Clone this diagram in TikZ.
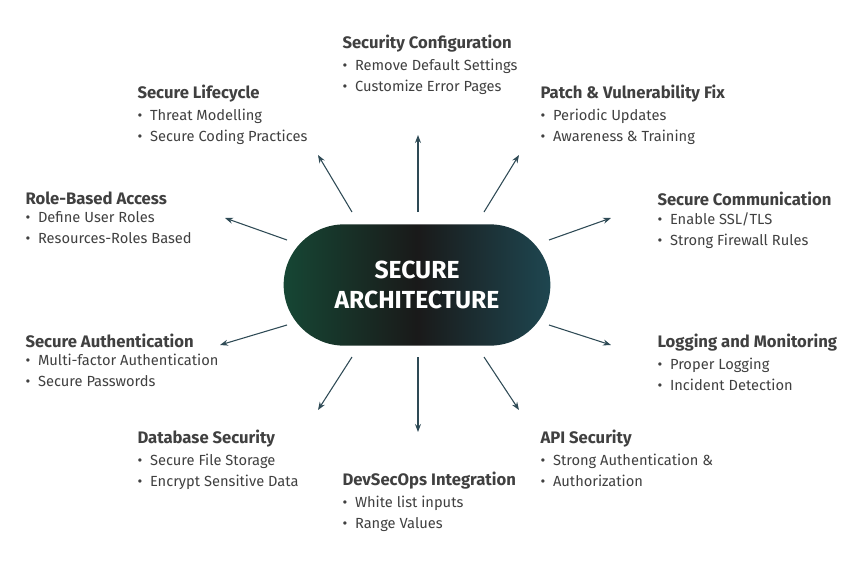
\documentclass[tikz,border=0pt]{standalone}
\usepackage{fontspec}
\setmainfont{Fira Sans}
\usetikzlibrary{arrows.meta,positioning,shapes.misc}
\definecolor{arrowcol}{RGB}{46,74,85}
\definecolor{textcol}{RGB}{64,64,64}
\definecolor{pillgreen}{RGB}{22,70,52}
\definecolor{pillteal}{RGB}{30,70,80}
\tikzset{every picture/.style={line width=0.75pt},
  head/.style={anchor=north west,inner sep=0.75pt,font=\fontsize{12.5}{14}\selectfont\bfseries,text=textcol},
  items/.style={anchor=north west,inner sep=0.75pt,align=left,font=\fontsize{11}{15.75}\selectfont,text=textcol},
  spoke/.style={draw=arrowcol,line width=0.8pt,-{Stealth[length=6pt,width=4.5pt]}}}
\newcommand{\infoblock}[5]{%
  \node[head] (#1) at (#2) {#3};
  \node[items,below=3pt of #1.south west,anchor=north west] (#1-list) {•\ \ #4\\•\ \ #5};}

\begin{document}
\begin{tikzpicture}[x=0.75pt,y=0.75pt,yscale=-1,xscale=1]
\useasboundingbox (0,0) rectangle (846,568);

% centre pill
\node[rounded rectangle,minimum width=200pt,minimum height=91pt,inner sep=0pt,
  left color=pillgreen,right color=pillteal,middle color=black!90,
  text=white,align=center,font=\fontsize{18.5}{23}\selectfont\bfseries] (core) at (417,285)
  {SECURE\\ARCHITECTURE};

% text blocks
\infoblock{config}{341,33}{Security Configuration}{Remove Default Settings}{Customize Error Pages}
\infoblock{life}{136,83}{Secure Lifecycle}{Threat Modelling}{Secure Coding Practices}
\infoblock{patch}{539,83}{Patch \& Vulnerability Fix}{Periodic Updates}{Awareness \& Training}
\infoblock{role}{24,190}{Role-Based Access}{Define User Roles}{Resources-Roles Based}
\infoblock{comm}{656,190}{Secure Communication}{Enable SSL/TLS}{Strong Firewall Rules}
\infoblock{auth}{24,332}{Secure Authentication}{Multi-factor Authentication}{Secure Passwords}
\infoblock{log}{656,332}{Logging and Monitoring}{Proper Logging}{Incident Detection}
\infoblock{db}{136,428}{Database Security}{Secure File Storage}{Encrypt Sensitive Data}
\infoblock{api}{539,428}{API Security}{Strong Authentication \&}{Authorization}
\infoblock{devops}{341,470}{DevSecOps Integration}{White list inputs}{Range Values}

% spoke end points
\coordinate (e1) at (418,135); \coordinate (s1) at (418,212);
\coordinate (e2) at (318,155); \coordinate (s2) at (352,212);
\coordinate (e3) at (519,155); \coordinate (s3) at (484,212);
\coordinate (e4) at (225,218); \coordinate (s4) at (287,240);
\coordinate (e5) at (611,218); \coordinate (s5) at (549,240);
\coordinate (e6) at (220,345); \coordinate (s6) at (287,325);
\coordinate (e7) at (611,345); \coordinate (s7) at (549,325);
\coordinate (e8) at (318,410); \coordinate (s8) at (352,357);
\coordinate (e9) at (418,432); \coordinate (s9) at (418,357);
\coordinate (e10) at (519,410); \coordinate (s10) at (484,357);
\foreach \i in {1,...,10} \draw[spoke] (s\i) -- (e\i);

\end{tikzpicture}
\end{document}
